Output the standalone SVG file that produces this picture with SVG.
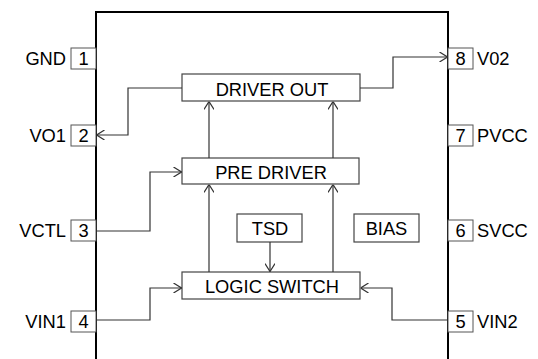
<svg xmlns="http://www.w3.org/2000/svg" width="538" height="359" viewBox="0 0 538 359">
<defs>
<style>
text{font-family:"Liberation Sans",Arial,sans-serif;font-size:18.3px;fill:#000}
.pin{fill:#fff;stroke:#555;stroke-width:1}
.blk{fill:#fff;stroke:#444;stroke-width:1.2}
.c{fill:none;stroke:#333;stroke-width:1.2}
.mid{text-anchor:middle}
.end{text-anchor:end}
</style>
<marker id="ah" viewBox="0 0 10 10" refX="10" refY="5" markerWidth="10" markerHeight="10" markerUnits="userSpaceOnUse" orient="auto">
<path d="M2,0 L10,5 L2,10" fill="none" stroke="#333" stroke-width="1.2"/>
</marker>
</defs>
<rect x="0" y="0" width="538" height="359" fill="#fff"/>
<g id="package">
<path d="M96,370 V12 H448 V370" fill="none" stroke="#000" stroke-width="2"/>
</g>
<g id="pin1"><rect class="pin" x="71" y="48" width="25" height="21"/><text class="mid" x="83.5" y="65">1</text><text class="end" x="66" y="65">GND</text></g>
<g id="pin2"><rect class="pin" x="71" y="125" width="25" height="21"/><text class="mid" x="83.5" y="142">2</text><text class="end" x="66" y="142">VO1</text></g>
<g id="pin3"><rect class="pin" x="71" y="220" width="25" height="21"/><text class="mid" x="83.5" y="237">3</text><text class="end" x="66" y="237">VCTL</text></g>
<g id="pin4"><rect class="pin" x="71" y="311" width="25" height="21"/><text class="mid" x="83.5" y="328">4</text><text class="end" x="66" y="328">VIN1</text></g>
<g id="pin8"><rect class="pin" x="448" y="48" width="25" height="21"/><text class="mid" x="460.5" y="65">8</text><text x="477" y="65">V02</text></g>
<g id="pin7"><rect class="pin" x="448" y="125" width="25" height="21"/><text class="mid" x="460.5" y="142">7</text><text x="477" y="142">PVCC</text></g>
<g id="pin6"><rect class="pin" x="448" y="220" width="25" height="21"/><text class="mid" x="460.5" y="237">6</text><text x="477" y="237">SVCC</text></g>
<g id="pin5"><rect class="pin" x="448" y="311" width="25" height="21"/><text class="mid" x="460.5" y="328">5</text><text x="477" y="328">VIN2</text></g>
<g id="driver-out"><rect class="blk" x="182" y="74" width="178" height="27"/><text class="mid" x="272" y="96">DRIVER OUT</text></g>
<g id="pre-driver"><rect class="blk" x="182" y="158" width="177" height="26"/><text class="mid" x="271" y="178.5">PRE DRIVER</text></g>
<g id="logic-switch"><rect class="blk" x="182" y="272" width="178" height="27"/><text class="mid" x="272" y="293">LOGIC SWITCH</text></g>
<g id="tsd"><rect class="blk" x="237" y="214" width="65" height="28"/><text class="mid" x="270" y="235">TSD</text></g>
<g id="bias"><rect class="blk" x="354" y="214" width="65" height="28"/><text class="mid" x="386.5" y="234.5">BIAS</text></g>
<g id="connectors">
<path class="c" d="M182,88 H128 V135 H96.5" marker-end="url(#ah)"/>
<path class="c" d="M360,88 H393 V57 H447.5" marker-end="url(#ah)"/>
<path class="c" d="M97,231 H150 V172 H181.5" marker-end="url(#ah)"/>
<path class="c" d="M97,320 H150 V288 H181.5" marker-end="url(#ah)"/>
<path class="c" d="M447,320 H392 V288 H360.5" marker-end="url(#ah)"/>
<path class="c" d="M209,272 V184.5" marker-end="url(#ah)"/>
<path class="c" d="M333,272 V184.5" marker-end="url(#ah)"/>
<path class="c" d="M209,158 V101.5" marker-end="url(#ah)"/>
<path class="c" d="M333,158 V101.5" marker-end="url(#ah)"/>
<path class="c" d="M270,242 V271.5" marker-end="url(#ah)"/>
</g>
</svg>
